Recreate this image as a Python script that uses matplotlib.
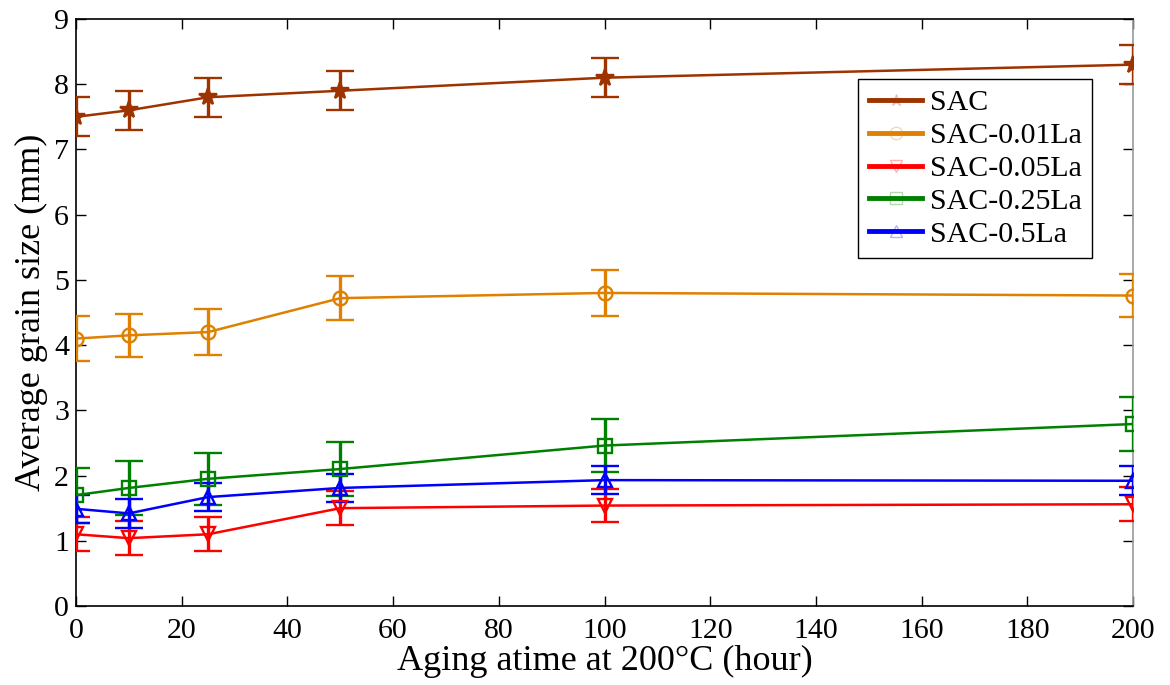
import matplotlib
matplotlib.use("Agg")
import matplotlib.pyplot as plt
from matplotlib.lines import Line2D
import numpy as np

plt.rcParams['font.family'] = ['Liberation Serif', 'DejaVu Serif']
plt.rcParams['mathtext.fontset'] = 'stix'

hours = [0, 10, 25, 50, 100, 200]
series_names = ["SAC", "SAC-0.01La", "SAC-0.05La", "SAC-0.25La", "SAC-0.5La"]
sac = [7.5, 7.6, 7.8, 7.9, 8.1, 8.3]
sac_err = [0.3, 0.3, 0.3, 0.3, 0.3, 0.3]
la001 = [4.1, 4.15, 4.2, 4.72, 4.8, 4.76]
la001_err = [0.35, 0.33, 0.35, 0.34, 0.35, 0.33]
la005 = [1.1, 1.04, 1.1, 1.5, 1.54, 1.56]
la005_err = [0.26, 0.26, 0.26, 0.26, 0.25, 0.26]
la025 = [1.7, 1.81, 1.95, 2.1, 2.46, 2.79]
la025_err = [0.42, 0.42, 0.40, 0.41, 0.41, 0.41]
la05 = [1.49, 1.42, 1.67, 1.81, 1.93, 1.92]
la05_err = [0.21, 0.22, 0.22, 0.21, 0.22, 0.22]

colors = ["#9E3300", "#E08000", "#FF0000", "#008000", "#0000FF"]
markers = ["*", "o", "v", "s", "^"]
values = [sac, la001, la005, la025, la05]
errors = [sac_err, la001_err, la005_err, la025_err, la05_err]
xticks = [0, 20, 40, 60, 80, 100, 120, 140, 160, 180, 200]
yticks = [0, 1, 2, 3, 4, 5, 6, 7, 8, 9]

fig = plt.figure(figsize=(11.70, 6.85), dpi=100)
ax = fig.add_axes([76/1170, 1 - 606/685, (1133-76)/1170, (606-19)/685])

for name, v, e, c, m in zip(series_names, values, errors, colors, markers):
    if m == "*":
        ms, fc = 13, c
    else:
        ms, fc = 10, 'none'
    ax.errorbar(hours, v, yerr=e, color=c, marker=m, markersize=ms,
                markerfacecolor=fc, markeredgecolor=c, markeredgewidth=1.7,
                linewidth=1.8, elinewidth=2.4, capsize=10, capthick=2.4,
                clip_on=True, zorder=3)

ax.set_xlim(0, 200)
ax.set_ylim(0, 9)
ax.set_xticks(xticks)
ax.set_yticks(yticks)
ax.tick_params(direction='in', length=7, width=1, labelsize=21.5,
               top=True, right=True, pad=5)
ax.tick_params(axis='x', pad=9)
for s in ax.spines.values():
    s.set_linewidth(1.2)
ax.spines['right'].set_color('#999999')

ax.set_xlabel("Aging atime at 200\u00b0C (hour)", fontsize=26, labelpad=0)
ax.set_ylabel("Average grain size (mm)", fontsize=26, labelpad=4)

handles = []
for c, m in zip(colors, markers):
    handles.append(Line2D([0], [0], color=c, linewidth=3.5, marker=m,
                          markersize=9, markerfacecolor='none',
                          markeredgecolor=matplotlib.colors.to_rgba(c, 0.3),
                          markeredgewidth=1))
leg = ax.legend(handles, series_names, loc='upper left',
                bbox_to_anchor=(0.74, 0.898), fontsize=21.5, frameon=True,
                fancybox=False, edgecolor='black', framealpha=1,
                handlelength=1.8, handletextpad=0.25, labelspacing=0.2,
                borderpad=0.35, borderaxespad=0)
leg.get_frame().set_linewidth(1.0)

fig.savefig("out.png", dpi=100)
